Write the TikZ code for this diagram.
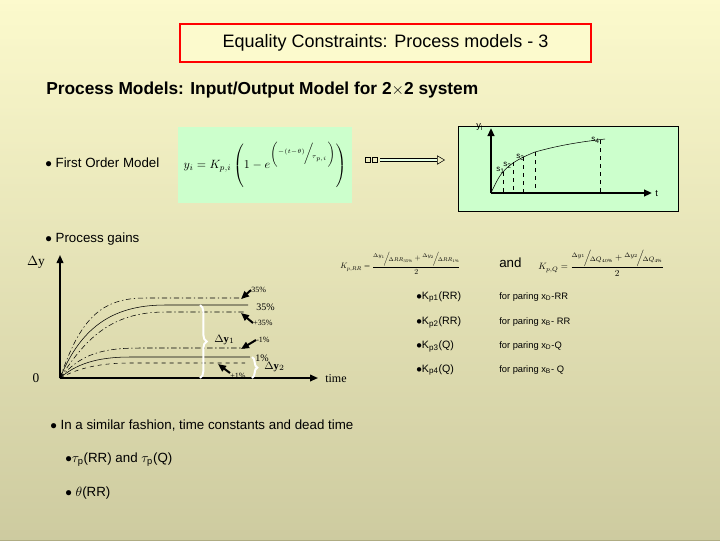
\documentclass[tikz,border=0pt]{standalone}
\usepackage{amsmath}
\usepackage{graphicx}
\usepackage{fontspec}
\setmainfont{Liberation Sans}
\newfontfamily\serifb{Liberation Serif}
\usetikzlibrary{arrows.meta,decorations.pathreplacing}
\definecolor{bgA}{RGB}{252,250,205}
\definecolor{bgB}{RGB}{175,172,130}
\definecolor{lgreen}{RGB}{204,255,204}
\newcommand{\slfr}[2]{{}^{#1}\!\Big/\!{}_{#2}}
\tikzset{
 txt/.style={inner sep=0pt,anchor=west,font=\fontsize{10}{12}\selectfont},
 sm/.style={inner sep=0pt,anchor=west,font=\serifb\fontsize{6}{7}\selectfont},
 dd/.style={dash pattern=on 4pt off 2pt on 1pt off 2pt,thin},
 ds/.style={dashed,thin},
 pt/.style={-{Triangle[length=6pt,width=5pt]},line width=1.5pt}
}
\begin{document}
\begin{tikzpicture}[x=0.75pt,y=-0.75pt]
\shade[left color=bgA,right color=bgB,shading angle=0] (0,0) rectangle (720,540);
\fill[bgA,opacity=0.4] (0,0) rectangle (720,540);
\useasboundingbox (0,0) rectangle (720,540);
% title
\node[draw=red,line width=1.5pt,fill=bgA,minimum width=308pt,minimum height=28pt,font=\fontsize{13.5}{15}\selectfont] (title) at (385.5,43) {Equality Constraints: Process models - 3};
\node[inner sep=0pt,anchor=west,font=\bfseries\fontsize{13}{15}\selectfont] (sub) at (46,90) {Process Models: Input/Output Model for 2$\times$2 system};
\node[txt] (fom) at (45,163) {$\bullet$ First Order Model};
% equation box
\node[fill=lgreen,minimum width=130pt,minimum height=57pt] (eqbox) at (265,165) {};
\node[inner sep=0pt] (eq) at (265,165) {\resizebox{122pt}{!}{$y_i = K_{p,i}\left(\rule{0pt}{16pt}1-e^{\left(\slfr{-(t-\theta)}{\tau_{p,i}}\right)}\right)$}};
% arrow
\node[draw,minimum size=4pt,inner sep=0pt] (q1) at (368,160) {};
\node[draw,minimum size=4pt,inner sep=0pt] (q2) at (375,160) {};
\coordinate (a1) at (380,160);
\coordinate (a2) at (445,160);
\draw[double=lgreen!50,double distance=2pt,-{Triangle[open,length=6pt,width=7pt]}] (a1) -- (a2);
% graph box
\node[draw,fill=lgreen,minimum width=165pt,minimum height=64pt,anchor=north west] (gbox) at (458,126) {};
\coordinate (o) at (491,193);
\coordinate (ytop) at (491,128);
\coordinate (tend) at (652,193);
\draw[pt] (o) -- (ytop);
\draw[pt] (o) -- (tend);
\node[sm,font=\fontsize{7}{8}\selectfont] (yi) at (476,127) {y$_\mathrm{i}$};
\node[sm,font=\fontsize{7}{8}\selectfont] (t) at (655,194) {t};
\draw[thin] (491,193) .. controls (497,180) and (500,175) .. (503,172) .. controls (508,166) and (515,160) .. (535,152) .. controls (560,145) and (580,142) .. (605,139);
\foreach \x/\y in {503/172,513/162,523/157,535/152,600/140}{\draw[ds] (\x,\y) -- (\x,193);}
\node[sm,font=\fontsize{6}{7}\selectfont] (s1) at (496,170) {s$_\mathrm{1}$};
\node[sm,font=\fontsize{6}{7}\selectfont] (s2) at (503,165) {s$_\mathrm{2}$};
\node[sm,font=\fontsize{6}{7}\selectfont] (s3) at (516,157) {s$_\mathrm{3}$};
\node[sm,font=\fontsize{6}{7}\selectfont] (s4) at (591,140) {s$_\mathrm{4}$};
% process gains
\node[txt] (pg) at (45,239) {$\bullet$ Process gains};
\node[inner sep=0pt,font=\serifb\fontsize{10}{12}\selectfont] (dy) at (36,262) {$\Delta$y};
\node[inner sep=0pt,font=\serifb\fontsize{10}{12}\selectfont] (zero) at (36,378) {0};
\node[inner sep=0pt,anchor=west,font=\serifb\fontsize{9}{11}\selectfont] (time) at (325,379) {time};
\coordinate (O) at (60,378);
\coordinate (Yt) at (60,255);
\coordinate (Xe) at (318,378);
\draw[pt,line width=1.2pt] (O) -- (Yt);
\draw[pt,line width=1.2pt] (O) -- (Xe);
% curves
\draw[dd] (60,378) .. controls (80,320) and (100,298) .. (145,298) -- (245,298);
\draw[thin] (60,378) .. controls (80,330) and (110,305) .. (165,305) -- (248,305);
\draw[dd] (60,378) .. controls (85,340) and (110,312) .. (165,312) -- (245,312);
\draw[dd] (60,378) .. controls (80,355) and (100,348) .. (140,348) -- (245,348);
\draw[thin] (60,378) .. controls (75,365) and (95,357) .. (130,357) -- (250,357);
\draw[ds] (60,378) .. controls (75,370) and (95,363) .. (130,363) -- (245,363);
\draw[decorate,decoration={brace,amplitude=5pt},white,line width=1.5pt] (200,305) -- (200,378);
\draw[decorate,decoration={brace,amplitude=4pt},white,line width=1.5pt] (252,357) -- (252,378);
\node[sm,font=\serifb\bfseries\fontsize{8}{9}\selectfont] (dy1) at (214,340) {$\Delta$y$_1$};
\node[sm,font=\serifb\bfseries\fontsize{8}{9}\selectfont] (dy2) at (264,367) {$\Delta$y$_2$};
\node[sm] (l1) at (251,290) {35\%};
\node[sm,font=\serifb\fontsize{7.5}{9}\selectfont] (l2) at (256,307) {35\%};
\node[sm] (l3) at (253,323) {+35\%};
\node[sm] (l4) at (256,340) {-1\%};
\node[sm,font=\serifb\fontsize{7.5}{9}\selectfont] (l5) at (255,358) {1\%};
\node[sm] (l6) at (230,376) {+1\%};
\draw[pt,line width=1.5pt] (l1.west) -- (241,299);
\draw[pt,line width=1.5pt] (l3.west) -- (241,313);
\draw[pt,line width=1.5pt] (l4.west) -- (241,349);
\draw[pt,line width=1.5pt] (l6.north west) -- (218,364);
% formulas
\node[inner sep=0pt,anchor=west] (krr) at (340,263) {\resizebox{90pt}{!}{$K_{p,RR}=\dfrac{\slfr{\Delta y_1}{\Delta RR_{35\%}}+\slfr{\Delta y_2}{\Delta RR_{1\%}}}{2}$}};
\node[inner sep=0pt,anchor=west,font=\fontsize{10}{12}\selectfont] (and) at (499,263) {and};
\node[inner sep=0pt,anchor=west] (kq) at (538,263) {\resizebox{94pt}{!}{$K_{p,Q}=\dfrac{\slfr{\Delta y_1}{\Delta Q_{40\%}}+\slfr{\Delta y_2}{\Delta Q_{4\%}}}{2}$}};
\foreach \i/\y/\a in {1/297/RR,2/322/RR,3/346/Q,4/370/Q}{
 \node[txt,font=\fontsize{8}{9}\selectfont] (k\i) at (416,\y) {$\bullet$K$_{\mathrm{p\i}}$(\a)};
}
\node[txt,font=\fontsize{7}{9}\selectfont] (f1) at (499,297) {for paring x\textsubscript{D}-RR};
\node[txt,font=\fontsize{7}{9}\selectfont] (f2) at (499,322) {for paring x\textsubscript{B}- RR};
\node[txt,font=\fontsize{7}{9}\selectfont] (f3) at (499,346) {for paring x\textsubscript{D}-Q};
\node[txt,font=\fontsize{7}{9}\selectfont] (f4) at (499,370) {for paring x\textsubscript{B}- Q};
% bottom
\node[txt] (sim) at (50,426) {$\bullet$ In a similar fashion, time constants and dead time};
\node[txt] (tau) at (65,460) {$\bullet\tau_{\mathrm p}$(RR) and $\tau_{\mathrm p}$(Q)};
\node[txt] (th) at (65,493) {$\bullet$ $\theta$(RR)};
\end{tikzpicture}
\end{document}
